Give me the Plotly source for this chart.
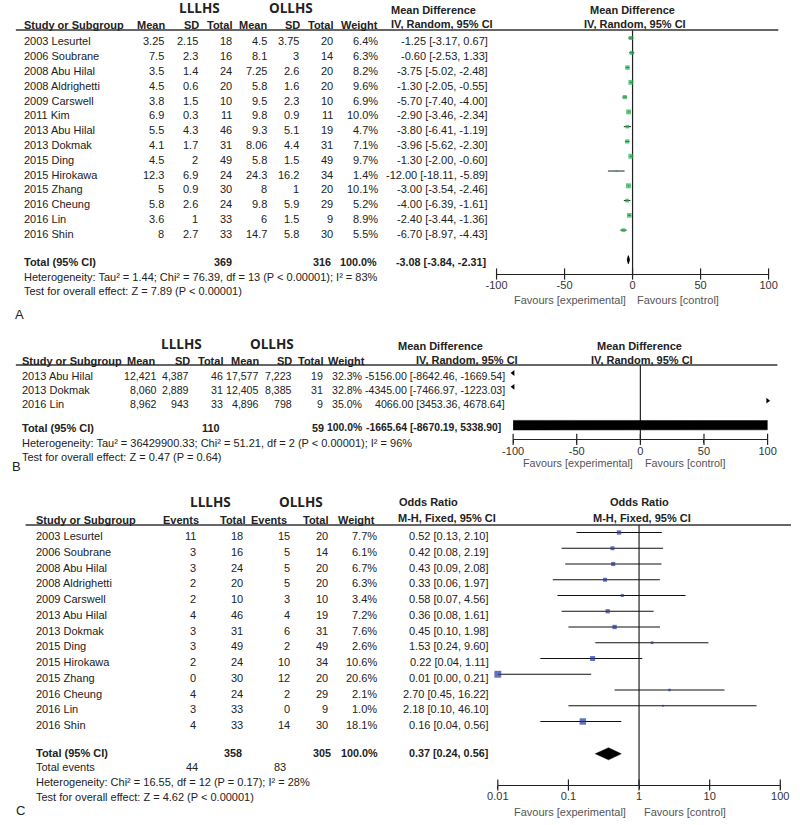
import numpy as np
import plotly.graph_objects as go

W, H = 800, 825

# ---------------- Panel A data ----------------
studies_a = ["2003 Lesurtel", "2006 Soubrane", "2008 Abu Hilal", "2008 Aldrighetti", "2009 Carswell",
             "2011 Kim", "2013 Abu Hilal", "2013 Dokmak", "2015 Ding", "2015 Hirokawa", "2015 Zhang",
             "2016 Cheung", "2016 Lin", "2016 Shin"]
a_exp_mean = [3.25, 7.5, 3.5, 4.5, 3.8, 6.9, 5.5, 4.1, 4.5, 12.3, 5, 5.8, 3.6, 8]
a_exp_sd = [2.15, 2.3, 1.4, 0.6, 1.5, 0.3, 4.3, 1.7, 2, 6.9, 0.9, 2.6, 1, 2.7]
a_exp_n = [18, 16, 24, 20, 10, 11, 46, 31, 49, 24, 30, 24, 33, 33]
a_ctl_mean = [4.5, 8.1, 7.25, 5.8, 9.5, 9.8, 9.3, 8.06, 5.8, 24.3, 8, 9.8, 6, 14.7]
a_ctl_sd = [3.75, 3, 2.6, 1.6, 2.3, 0.9, 5.1, 4.4, 1.5, 16.2, 1, 5.9, 1.5, 5.8]
a_ctl_n = [20, 14, 20, 20, 10, 11, 19, 31, 49, 34, 20, 29, 9, 30]
a_weight = [6.4, 6.3, 8.2, 9.6, 6.9, 10.0, 4.7, 7.1, 9.7, 1.4, 10.1, 5.2, 8.9, 5.5]
a_md = [-1.25, -0.60, -3.75, -1.30, -5.70, -2.90, -3.80, -3.96, -1.30, -12.00, -3.00, -4.00, -2.40, -6.70]
a_lo = [-3.17, -2.53, -5.02, -2.05, -7.40, -3.46, -6.41, -5.62, -2.00, -18.11, -3.54, -6.39, -3.44, -8.97]
a_hi = [0.67, 1.33, -2.48, -0.55, -4.00, -2.34, -1.19, -2.30, -0.60, -5.89, -2.46, -1.61, -1.36, -4.43]
a_total_n = [369, 316]
a_total_est = [-3.08, -3.84, -2.31]
a_het = "Heterogeneity: Tau² = 1.44; Chi² = 76.39, df = 13 (P < 0.00001); I² = 83%"
a_test = "Test for overall effect: Z = 7.89 (P < 0.00001)"

# ---------------- Panel B data ----------------
studies_b = ["2013 Abu Hilal", "2013 Dokmak", "2016 Lin"]
b_exp_mean = [12421, 8060, 8962]
b_exp_sd = [4387, 2889, 943]
b_exp_n = [46, 31, 33]
b_ctl_mean = [17577, 12405, 4896]
b_ctl_sd = [7223, 8385, 798]
b_ctl_n = [19, 31, 9]
b_weight = [32.3, 32.8, 35.0]
b_md = [-5156.00, -4345.00, 4066.00]
b_lo = [-8642.46, -7466.97, 3453.36]
b_hi = [-1669.54, -1223.03, 4678.64]
b_total_n = [110, 59]
b_total_est = [-1665.64, -8670.19, 5338.90]
b_het = "Heterogeneity: Tau² = 36429900.33; Chi² = 51.21, df = 2 (P < 0.00001); I² = 96%"
b_test = "Test for overall effect: Z = 0.47 (P = 0.64)"

# ---------------- Panel C data ----------------
studies_c = ["2003 Lesurtel", "2006 Soubrane", "2008 Abu Hilal", "2008 Aldrighetti", "2009 Carswell",
             "2013 Abu Hilal", "2013 Dokmak", "2015 Ding", "2015 Hirokawa", "2015 Zhang",
             "2016 Cheung", "2016 Lin", "2016 Shin"]
c_exp_ev = [11, 3, 3, 2, 2, 4, 3, 3, 2, 0, 4, 3, 4]
c_exp_n = [18, 16, 24, 20, 10, 46, 31, 49, 24, 30, 24, 33, 33]
c_ctl_ev = [15, 5, 5, 5, 3, 4, 6, 2, 10, 12, 2, 0, 14]
c_ctl_n = [20, 14, 20, 20, 10, 19, 31, 49, 34, 20, 29, 9, 30]
c_weight = [7.7, 6.1, 6.7, 6.3, 3.4, 7.2, 7.6, 2.6, 10.6, 20.6, 2.1, 1.0, 18.1]
c_or = [0.52, 0.42, 0.43, 0.33, 0.58, 0.36, 0.45, 1.53, 0.22, 0.01, 2.70, 2.18, 0.16]
c_lo = [0.13, 0.08, 0.09, 0.06, 0.07, 0.08, 0.10, 0.24, 0.04, 0.00, 0.45, 0.10, 0.04]
c_hi = [2.10, 2.19, 2.08, 1.97, 4.56, 1.61, 1.98, 9.60, 1.11, 0.21, 16.22, 46.10, 0.56]
c_total_n = [358, 305]
c_total_events = [44, 83]
c_total_est = [0.37, 0.24, 0.56]
c_het = "Heterogeneity: Chi² = 16.55, df = 12 (P = 0.17); I² = 28%"
c_test = "Test for overall effect: Z = 4.62 (P < 0.00001)"

lin_ticks = [-100, -50, 0, 50, 100]
log_ticks = [0.01, 0.1, 1, 10, 100]
log_tick_text = ["0.01", "0.1", "1", "10", "100"]

# ---------------- styling ----------------
FONT = "Liberation Sans"
TXT = "#222222"
GREY = "#555555"
GREEN = "#22b14c"
BLUE = "#23399c"
BOLD_SZ = 10.8
B_SZ = 10.6

annotations = []
shapes = []


def txt(x, y, s, anchor="left", bold=False, size=11, color=TXT, family=FONT):
    if bold:
        s = f"<b>{s}</b>"
    annotations.append(dict(x=x / W, y=1 - y / H, xref="paper", yref="paper", text=s,
                            showarrow=False, xanchor=anchor, yanchor="middle",
                            borderpad=0, borderwidth=0,
                            font=dict(family=family, size=size, color=color)))


def hline(x0, x1, y, width=1.5, color="#333333"):
    shapes.append(dict(type="line", xref="paper", yref="paper", x0=x0 / W, x1=x1 / W,
                       y0=1 - y / H, y1=1 - y / H, line=dict(color=color, width=width)))


def sq_size(w):
    return 1.4 * np.sqrt(np.asarray(w, dtype=float)) + 0.5


fig = go.Figure()

# ====================== PANEL A ======================
A_top, A_bot = 30, 274
rows_a = 41.5 + 14.78 * np.arange(len(studies_a))
txt(193, 8, "LLLHS", "center", True, 13.5, family="Open Sans")
txt(287, 8, "OLLHS", "center", True, 13.5, family="Open Sans")
txt(390, 10, "Mean Difference", bold=True)
txt(390, 24, "IV, Random, 95% CI", bold=True)
txt(637, 10, "Mean Difference", "center", True)
txt(640, 24, "IV, Random, 95% CI", "center", True)
txt(13, 25, "Study or Subgroup", bold=True)
for xr, lab in zip([158, 193, 227, 263, 296, 330, 376], ["Mean", "SD", "Total", "Mean", "SD", "Total", "Weight"]):
    txt(xr, 25, lab, "right", True)
hline(5, 787, A_top)
for i, y in enumerate(rows_a):
    txt(13, y, studies_a[i])
    txt(157, y, f"{a_exp_mean[i]:g}", "right")
    txt(192, y, f"{a_exp_sd[i]:g}", "right")
    txt(227, y, f"{a_exp_n[i]}", "right")
    txt(263, y, f"{a_ctl_mean[i]:g}", "right")
    txt(295, y, f"{a_ctl_sd[i]:g}", "right")
    txt(330, y, f"{a_ctl_n[i]}", "right")
    txt(376, y, f"{a_weight[i]:.1f}%", "right")
    txt(489, y, f"{a_md[i]:.2f} [{a_lo[i]:.2f}, {a_hi[i]:.2f}]", "right")
ya_tot = 261.7
txt(13, ya_tot, "Total (95% CI)", bold=True)
txt(227, ya_tot, f"{a_total_n[0]}", "right", True, BOLD_SZ)
txt(328, ya_tot, f"{a_total_n[1]}", "right", True, BOLD_SZ)
txt(375, ya_tot, "100.0%", "right", True, BOLD_SZ)
txt(487, ya_tot, f"{a_total_est[0]:.2f} [{a_total_est[1]:.2f}, {a_total_est[2]:.2f}]", "right", True, BOLD_SZ)
txt(13, 277, a_het)
txt(13, 291.5, a_test)
txt(631, 299.5, "Favours [experimental]", "right", color=GREY)
txt(642, 299.5, "Favours [control]", "left", color=GREY)
txt(4, 314, "A", size=13)

md = np.array(a_md); lo = np.array(a_lo); hi = np.array(a_hi)
fig.add_trace(go.Scatter(x=[0, 0], y=[A_bot, A_top], mode="lines", line=dict(color="#222", width=1.2),
                         xaxis="x", yaxis="y", hoverinfo="skip"))
fig.add_trace(go.Scatter(x=md, y=rows_a - 3.5, mode="markers", xaxis="x", yaxis="y", cliponaxis=False,
                         marker=dict(symbol="square", size=sq_size(a_weight), color=GREEN, line=dict(width=0)),
                         error_x=dict(type="data", symmetric=False, array=hi - md, arrayminus=md - lo,
                                      color="#222", thickness=1, width=0)))
e, l, h = a_total_est
yt = ya_tot - 2
fig.add_trace(go.Scatter(x=[l, e, h, e, l], y=[yt, yt - 4, yt, yt + 4, yt], mode="lines", fill="toself",
                         fillcolor="black", line=dict(color="black", width=1), xaxis="x", yaxis="y"))
fig.add_trace(go.Scatter(x=lin_ticks, y=[A_bot] * len(lin_ticks), mode="markers", xaxis="x", yaxis="y",
                         cliponaxis=False, marker=dict(symbol="line-ns", size=8, line=dict(width=1.2, color="#222"))))

# ====================== PANEL B ======================
B_top, B_bot = 365, 439.3
rows_b = 376 + 13.85 * np.arange(len(studies_b))
txt(175, 344, "LLLHS", "center", True, 13.5, family="Open Sans")
txt(267.5, 344, "OLLHS", "center", True, 13.5, family="Open Sans")
txt(397, 346, "Mean Difference", bold=True)
txt(415, 360, "IV, Random, 95% CI", bold=True)
txt(645, 346, "Mean Difference", "center", True)
txt(647, 360, "IV, Random, 95% CI", "center", True)
txt(11, 361, "Study or Subgroup", bold=True)
for xr, lab in zip([148, 184, 217, 254, 288, 320, 363], ["Mean", "SD", "Total", "Mean", "SD", "Total", "Weight"]):
    txt(xr, 361, lab, "right", True)
hline(5, 786, B_top)
for i, y in enumerate(rows_b):
    txt(11, y, studies_b[i])
    txt(150, y, f"{b_exp_mean[i]:,}", "right", size=B_SZ)
    txt(183, y, f"{b_exp_sd[i]:,}", "right", size=B_SZ)
    txt(217, y, f"{b_exp_n[i]}", "right", size=B_SZ)
    txt(254, y, f"{b_ctl_mean[i]:,}", "right", size=B_SZ)
    txt(288, y, f"{b_ctl_sd[i]:,}", "right", size=B_SZ)
    txt(320, y, f"{b_ctl_n[i]}", "right", size=B_SZ)
    txt(361, y, f"{b_weight[i]:.1f}%", "right", size=B_SZ)
    txt(507, y, f"{b_md[i]:.2f} [{b_lo[i]:.2f}, {b_hi[i]:.2f}]", "right", size=B_SZ)
yb_tot = 427.7
txt(11, yb_tot, "Total (95% CI)", bold=True)
txt(213, yb_tot, f"{b_total_n[0]}", "right", True, BOLD_SZ)
txt(321, yb_tot, f"{b_total_n[1]}", "right", True, BOLD_SZ)
txt(360, yb_tot, "100.0%", "right", True, 10.4)
txt(503, yb_tot, f"{b_total_est[0]:.2f} [{b_total_est[1]:.2f}, {b_total_est[2]:.2f}]", "right", True, 10.4)
txt(11, 442.7, b_het)
txt(11, 456.7, b_test)
txt(638, 463, "Favours [experimental]", "right", color=GREY, size=10.8)
txt(650, 463, "Favours [control]", "left", color=GREY, size=10.8)
txt(1, 466, "B", size=13)

bmd = np.array(b_md); blo = np.array(b_lo); bhi = np.array(b_hi)
xmin, xmax = lin_ticks[0], lin_ticks[-1]
b_sym = np.where(bhi < xmin, "triangle-left", np.where(blo > xmax, "triangle-right", "square"))
fig.add_trace(go.Scatter(x=[0, 0], y=[B_bot, B_top], mode="lines", line=dict(color="#222", width=1.2),
                         xaxis="x2", yaxis="y2", hoverinfo="skip"))
fig.add_trace(go.Scatter(x=np.clip(bmd, xmin, xmax), y=rows_b - 3, mode="markers", xaxis="x2", yaxis="y2",
                         cliponaxis=False, marker=dict(symbol=list(b_sym), size=5, color="black")))
e, l, h = b_total_est
yt = yb_tot - 2.5
fig.add_trace(go.Scatter(x=[l, e, h, e, l], y=[yt, yt - 6.2, yt, yt + 6.2, yt], mode="lines", fill="toself",
                         fillcolor="black", line=dict(color="black", width=0.5), xaxis="x2", yaxis="y2"))
fig.add_trace(go.Scatter(x=lin_ticks, y=[B_bot] * len(lin_ticks), mode="markers", xaxis="x2", yaxis="y2",
                         cliponaxis=False, marker=dict(symbol="line-ns", size=8, line=dict(width=1.2, color="#222"))))

# ====================== PANEL C ======================
C_top, C_bot = 525, 785
rows_c = 536 + 15.75 * np.arange(len(studies_c))
txt(205, 502, "LLLHS", "center", True, 13.5, family="Open Sans")
txt(297.5, 502, "OLLHS", "center", True, 13.5, family="Open Sans")
txt(398, 502, "Odds Ratio", bold=True)
txt(397, 518, "M-H, Fixed, 95% CI", bold=True)
txt(645, 502, "Odds Ratio", "center", True)
txt(647, 518, "M-H, Fixed, 95% CI", "center", True)
txt(26, 520, "Study or Subgroup", bold=True)
for xr, lab in zip([193, 240, 283, 325, 373], ["Events", "Total", "Events", "Total", "Weight"]):
    txt(xr, 520, lab, "right", True)
hline(15, 800, C_top)
for i, y in enumerate(rows_c):
    txt(26, y, studies_c[i])
    txt(190, y, f"{c_exp_ev[i]}", "right")
    txt(238, y, f"{c_exp_n[i]}", "right")
    txt(286, y, f"{c_ctl_ev[i]}", "right")
    txt(325, y, f"{c_ctl_n[i]}", "right")
    txt(375, y, f"{c_weight[i]:.1f}%", "right")
    txt(490, y, f"{c_or[i]:.2f} [{c_lo[i]:.2f}, {c_hi[i]:.2f}]", "right")
yc_tot = 753.3
txt(26, yc_tot, "Total (95% CI)", bold=True)
txt(237, yc_tot, f"{c_total_n[0]}", "right", True, BOLD_SZ)
txt(328, yc_tot, f"{c_total_n[1]}", "right", True, BOLD_SZ)
txt(376, yc_tot, "100.0%", "right", True, BOLD_SZ)
txt(489, yc_tot, f"{c_total_est[0]:.2f} [{c_total_est[1]:.2f}, {c_total_est[2]:.2f}]", "right", True, BOLD_SZ)
txt(26, 766.7, "Total events")
txt(192, 766.7, f"{c_total_events[0]}", "right")
txt(282, 766.7, f"{c_total_events[1]}", "right")
txt(26, 781.7, c_het)
txt(26, 796.7, c_test)
txt(631, 812, "Favours [experimental]", "right", color=GREY)
txt(649, 812, "Favours [control]", "left", color=GREY)
txt(5, 810, "C", size=13)

cor = np.array(c_or); clo = np.maximum(np.array(c_lo), log_ticks[0]); chi = np.array(c_hi)
fig.add_trace(go.Scatter(x=[1, 1], y=[C_bot, C_top], mode="lines", line=dict(color="#222", width=1.2),
                         xaxis="x3", yaxis="y3", hoverinfo="skip"))
fig.add_trace(go.Scatter(x=cor, y=rows_c - 3.5, mode="markers", xaxis="x3", yaxis="y3", cliponaxis=False,
                         marker=dict(symbol="square", size=sq_size(c_weight), color=BLUE, line=dict(width=0)),
                         error_x=dict(type="data", symmetric=False, array=chi - cor, arrayminus=cor - clo,
                                      color="#111", thickness=1.1, width=0)))
e, l, h = c_total_est
yt = yc_tot + 0.5
fig.add_trace(go.Scatter(x=[l, e, h, e, l], y=[yt, yt - 6, yt, yt + 6, yt], mode="lines", fill="toself",
                         fillcolor="black", line=dict(color="black", width=0.5), xaxis="x3", yaxis="y3"))
fig.add_trace(go.Scatter(x=log_ticks, y=[C_bot] * len(log_ticks), mode="markers", xaxis="x3", yaxis="y3",
                         cliponaxis=False, marker=dict(symbol="line-ns", size=8, line=dict(width=1.2, color="#222"))))

# ====================== LAYOUT ======================
def xax(x0, x1, anchor, **kw):
    d = dict(domain=[x0 / W, x1 / W], anchor=anchor, showline=True, linecolor="#222", linewidth=1.2,
             showgrid=False, zeroline=False, ticks="outside", ticklen=3, tickwidth=1.2, tickcolor="#222",
             ticklabelstandoff=-2,
             tickfont=dict(family=FONT, size=11, color="#333"), fixedrange=True)
    d.update(kw)
    return d


def yax(top, bot, anchor):
    return dict(domain=[1 - bot / H, 1 - top / H], range=[bot, top], anchor=anchor, visible=False,
                showgrid=False, zeroline=False, fixedrange=True)


fig.update_layout(
    width=W, height=H, margin=dict(l=0, r=0, t=0, b=0),
    paper_bgcolor="white", plot_bgcolor="rgba(0,0,0,0)", showlegend=False,
    xaxis=xax(498, 777, "y", range=[-100, 100], tickvals=lin_ticks, ticktext=[str(t) for t in lin_ticks]),
    yaxis=yax(A_top, A_bot, "x"),
    xaxis2=xax(515, 776, "y2", range=[-100, 100], tickvals=lin_ticks, ticktext=[str(t) for t in lin_ticks]),
    yaxis2=yax(B_top, B_bot, "x2"),
    xaxis3=xax(499.3, 789, "y3", type="log", range=[-2, 2], tickvals=log_ticks, ticktext=log_tick_text),
    yaxis3=yax(C_top, C_bot, "x3"),
    annotations=annotations, shapes=shapes,
)

# remove the browser's default 8px page margin so the 800x825 figure fills the window exactly
fig.write_html("out.html", config={"displayModeBar": False},
               post_script="document.body.style.margin='0px';document.body.style.overflow='hidden';")
